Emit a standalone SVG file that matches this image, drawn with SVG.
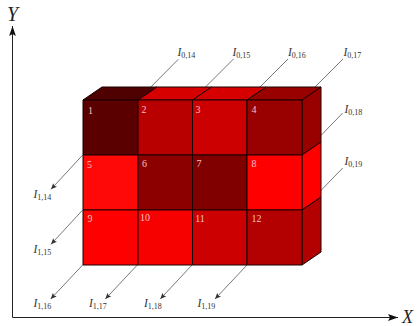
<svg xmlns="http://www.w3.org/2000/svg" width="418" height="326" viewBox="0 0 418 326">
<style>
.c{stroke:#1a0000;stroke-width:1;stroke-linejoin:round}
.n{font-family:"Liberation Serif",serif;font-size:10px;fill:#f2c4c4;text-anchor:middle}
.l{font-family:"Liberation Serif",serif;font-size:11.5px;font-style:italic;fill:#333}
.l tspan{font-style:normal;font-size:8px}
.a{font-family:"Liberation Serif",serif;font-size:20px;font-style:italic;fill:#222}
.w{fill:none;stroke:#555;stroke-width:.8}
.x{fill:none;stroke:#222;stroke-width:1}
</style>
<defs>
<marker id="s" markerUnits="userSpaceOnUse" markerWidth="7" markerHeight="6" refX="6" refY="3" orient="auto"><path d="M0 0.4L6 3L0 5.6L1.2 3Z" fill="#333"/></marker>
<marker id="b" markerUnits="userSpaceOnUse" markerWidth="11" markerHeight="8" refX="10" refY="4" orient="auto"><path d="M0 0.6L10 4L0 7.4L2 4Z" fill="#111"/></marker>
</defs>
<g id="connectors">
<path class="x" d="M12.5 317.5V26" marker-end="url(#b)"/>
<path class="x" d="M12.5 317.5H398" marker-end="url(#b)"/>
<path class="w" d="M138 100L178.300 59.300"/>
<path class="w" d="M192.500 100L233.500 59"/>
<path class="w" d="M247 100L288 59"/>
<path class="w" d="M302 100L343 59"/>
<path class="w" d="M302 155L342.700 113"/>
<path class="w" d="M302 210L342.700 168"/>
<path class="w" d="M82.700 155L51 189.300" marker-end="url(#s)"/>
<path class="w" d="M82.700 210L51 244.300" marker-end="url(#s)"/>
<path class="w" d="M82.700 265L50.700 299" marker-end="url(#s)"/>
<path class="w" d="M137.300 265L105.300 299" marker-end="url(#s)"/>
<path class="w" d="M192 265L160.300 299" marker-end="url(#s)"/>
<path class="w" d="M247 265L215 299" marker-end="url(#s)"/>
</g>
<g id="cell-1"><path class="c" fill="#4f0000" d="M83 100L102 87H157L138 100Z"/><rect class="c" fill="#5a0000" x="83" y="100" width="55" height="55"/><text class="n" x="90.500" y="114">1</text></g>
<g id="cell-2"><path class="c" fill="#d60000" d="M138 100L157 87H211.500L192.500 100Z"/><rect class="c" fill="#b80000" x="138" y="100" width="54.500" height="55"/><text class="n" x="144" y="113">2</text></g>
<g id="cell-3"><path class="c" fill="#d60000" d="M192.500 100L211.500 87H266L247 100Z"/><rect class="c" fill="#cc0000" x="192.500" y="100" width="54.500" height="55"/><text class="n" x="198" y="113">3</text></g>
<g id="cell-4"><path class="c" fill="#990000" d="M247 100L266 87H321L302 100Z"/><path class="c" fill="#990000" d="M302 100L321 87V142L302 155Z"/><rect class="c" fill="#990000" x="247" y="100" width="55" height="55"/><text class="n" x="254" y="113">4</text></g>
<g id="cell-5"><rect class="c" fill="#ff0808" x="83" y="155" width="55" height="55"/><text class="n" x="89.500" y="168">5</text></g>
<g id="cell-6"><rect class="c" fill="#8c0000" x="138" y="155" width="54.500" height="55"/><text class="n" x="144.500" y="167">6</text></g>
<g id="cell-7"><rect class="c" fill="#800000" x="192.500" y="155" width="54.500" height="55"/><text class="n" x="199" y="167">7</text></g>
<g id="cell-8"><path class="c" fill="#ff0000" d="M302 155L321 142V197L302 210Z"/><rect class="c" fill="#ff0000" x="247" y="155" width="55" height="55"/><text class="n" x="254" y="167">8</text></g>
<g id="cell-9"><rect class="c" fill="#ff0000" x="83" y="210" width="55" height="55"/><text class="n" x="90" y="222">9</text></g>
<g id="cell-10"><rect class="c" fill="#f60000" x="138" y="210" width="54.500" height="55"/><text class="n" x="145" y="221">10</text></g>
<g id="cell-11"><rect class="c" fill="#cc0000" x="192.500" y="210" width="54.500" height="55"/><text class="n" x="200" y="222">11</text></g>
<g id="cell-12"><path class="c" fill="#b30000" d="M302 210L321 197V252L302 265Z"/><rect class="c" fill="#b30000" x="247" y="210" width="55" height="55"/><text class="n" x="256.500" y="222">12</text></g>
<g id="labels">
<text class="a" x="7" y="21">Y</text>
<text class="a" x="402" y="323" style="font-size:18px">X</text>
<text class="l" x="177.500" y="56">I<tspan dy="2">0,14</tspan></text>
<text class="l" x="232.500" y="56">I<tspan dy="2">0,15</tspan></text>
<text class="l" x="288" y="56">I<tspan dy="2">0,16</tspan></text>
<text class="l" x="343.500" y="56">I<tspan dy="2">0,17</tspan></text>
<text class="l" x="344.500" y="113">I<tspan dy="2">0,18</tspan></text>
<text class="l" x="344.500" y="165">I<tspan dy="2">0,19</tspan></text>
<text class="l" x="33.500" y="198">I<tspan dy="2">1,14</tspan></text>
<text class="l" x="33.500" y="253">I<tspan dy="2">1,15</tspan></text>
<text class="l" x="33.500" y="307">I<tspan dy="2">1,16</tspan></text>
<text class="l" x="89" y="306.500">I<tspan dy="2">1,17</tspan></text>
<text class="l" x="144" y="306.500">I<tspan dy="2">1,18</tspan></text>
<text class="l" x="197.500" y="306.500">I<tspan dy="2">1,19</tspan></text>
</g>
</svg>
